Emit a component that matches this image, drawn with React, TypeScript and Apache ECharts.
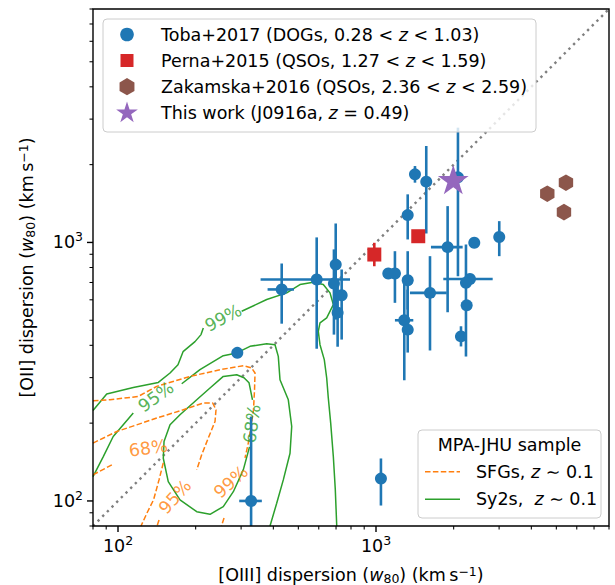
import React, { useEffect, useRef } from "react";
import * as echarts from "echarts";

const FONT = "DejaVu Sans";
const FS = 17.5;
const BLUE = "#1f77b4";
const RED = "#d62728";
const BROWN = "#8c564b";
const PURPLE = "#9467bd";
const GREEN = "#2ca02c";
const ORANGE = "#ff7f0e";
const GRAY = "#7f7f7f";

// ---------- axes ----------
const AXIS_MIN = 80;
const AXIS_MAX = 8000;
const majorTicks = [100, 1000];
const minorTicks = [80, 90, 200, 300, 400, 500, 600, 700, 800, 900, 2000, 3000, 4000, 5000, 6000, 7000, 8000];

// ---------- Toba+2017 (DOGs) ----------
const tobaPoints: number[][] = [
  [431, 658], [589, 719], [698, 821], [687, 693], [736, 625], [710, 535],
  [290, 374], [328, 100], [1045, 122],
  [1416, 1834], [1566, 1719], [1327, 1276], [1895, 959], [2404, 997], [3004, 1050],
  [1116, 758], [1184, 758], [1327, 714], [1619, 638], [2313, 722], [2232, 698],
  [2246, 571], [2135, 433], [1287, 500], [1327, 460], [2078, 1786],
];
const tobaXerr: (number[] | null)[] = [
  [380, 481], [357, 793], null, null, null, null,
  null, [295, 361], null,
  null, null, null, [1633, 2167], null, null,
  null, null, null, [1354, 1879], [1823, 2833], null,
  null, [2030, 2250], [1184, 1395], null, null,
];
const tobaYerr: (number[] | null)[] = [
  [485, 829], [388, 1046], [503, 1184], [440, 940], [421, 786], [395, 719],
  null, [60, 212], [96, 146],
  [1703, 1975], [1083, 2361], [1027, 1535], [537, 1382], null, [885, 1209],
  null, [584, 925], [550, 925], [382, 885], null, [362, 982],
  null, [396, 474], [293, 698], [375, 657], [740, 2780],
];

// ---------- Perna+2015 (QSOs) ----------
const pernaPoints: number[][] = [[985, 898], [1458, 1057]];
const pernaYerr: (number[] | null)[] = [[809, 997], null];

// ---------- Zakamska+2016 (QSOs) ----------
const zakamskaPoints: number[][] = [[5448, 1703], [4612, 1544], [5352, 1310]];

// ---------- This work ----------
const thisWorkPoints: number[][] = [[1993, 1728]];

// ---------- 1:1 line ----------
const oneToOne: number[][] = [[80, 80], [8000, 8000]];

// ---------- MPA-JHU Sy2s contours (solid green) ----------
const sy2s99a: number[][] = [
  [80, 223.8], [90.4, 259.2], [114.6, 274.9], [143.3, 287.4], [159.1, 312.6], [170.8, 336.6],
  [178.7, 378.0], [198.8, 413.4], [209.8, 440.0], [214.1, 467.0],
];
const sy2s99b: number[][] = [
  [301.6, 541.6], [377.1, 601.3], [450.7, 638.3], [507.4, 687.5], [571.4, 701.6], [624.7, 687.5],
  [663.3, 638.3], [683.3, 575.1], [644.0, 510.6], [606.6, 488.4], [597.5, 453.1], [606.6, 402.3],
  [630.3, 352.0], [644.0, 299.0], [653.3, 250.1], [667.4, 200.1], [683.3, 148.5], [695.5, 110.3], [704.4, 80],
];
const sy2s95a: number[][] = [[80, 124.2], [87.7, 148.5], [95.8, 177.5], [114.6, 218.7]];
const sy2s95b: number[][] = [
  [176.6, 284.1], [207.8, 321.9], [255.9, 364.8], [288.5, 373.7], [324.8, 396.4], [377.1, 406.0],
  [406.0, 402.3], [418.1, 362.5], [424.5, 294.5], [457.2, 246.2], [471.3, 194.1], [464.2, 153.0],
  [437.2, 120.6], [412.2, 98.0], [388.3, 80],
];
const sy2s68: number[][] = [
  [323.4, 161.9], [305.9, 131.9], [279.9, 108.6], [255.9, 95.1], [227.3, 88.8], [201.9, 90.9],
  [173.9, 100.9], [156.6, 118.8], [149.8, 146.3], [150.8, 169.8], [159.1, 197.0], [173.9, 215.4],
  [201.9, 246.2], [227.3, 273.4], [255.9, 303.2], [288.5, 307.8], [307.8, 299.8], [321.9, 286.7], [332.1, 246.2],
];

// ---------- MPA-JHU SFGs contours (dashed orange) ----------
const sfg99a: number[][] = [
  [80, 244.1], [93.1, 246.2], [119.8, 253.7], [141.3, 277.4], [190.1, 303.2], [248.5, 321.9],
  [305.9, 333.6], [329.7, 326.8], [339.7, 312.6], [338.2, 269.4], [335.1, 225.3], [327.8, 194.1],
  [319.9, 167.4], [310.7, 146.7],
];
const sfg99b: number[][] = [[257.6, 85.9], [251.8, 80]];
const sfg95a: number[][] = [
  [80, 167.4], [98.9, 185.6], [141.3, 209.2], [179.1, 225.3], [214.1, 239.1], [232.9, 239.1],
  [239.8, 225.3], [237.7, 203.0], [223.8, 175.0], [211.0, 150.8], [201.9, 131.9],
];
const sfg95b: number[][] = [[144.2, 84.4], [141.7, 80]];
const sfg68a: number[][] = [[80, 126.2], [95.8, 138.8]];
const sfg68b: number[][] = [[149.8, 140.3], [144.2, 120.6], [137.3, 100.9], [129.5, 89.8], [122.8, 80]];

// ---------- contour labels ----------
const contourLabelTexts = ["99%", "95%", "68%", "68%", "95%", "99%"];
const contourLabelColors = [GREEN, GREEN, GREEN, ORANGE, ORANGE, ORANGE];
const contourLabelAt: number[][] = [
  [255.9, 510.6], [140.3, 253.0], [330.6, 198.8], [131.0, 160.1], [166.3, 103.7], [274.1, 118.5],
];
const contourLabelAngle = [28, 36, 82, 8, 48, 42];

// ---------- legend texts ----------
const legendMain = [
  "Toba+2017 (DOGs, 0.28 < {i|z} < 1.03)",
  "Perna+2015 (QSOs, 1.27 < {i|z} < 1.59)",
  "Zakamska+2016 (QSOs, 2.36 < {i|z} < 2.59)",
  "This work (J0916a, {i|z} = 0.49)",
];
const legendSampleTitle = "MPA-JHU sample";
const legendSample = ["SFGs, {i|z} \u223C 0.1", "Sy2s,  {i|z} \u223C 0.1"];

const HEX_PATH = "path://M0,-1L0.866,-0.5L0.866,0.5L0,1L-0.866,0.5L-0.866,-0.5Z";
const STAR_PATH =
  "path://M0,-1L0.2245,-0.309L0.9511,-0.309L0.3633,0.118L0.5878,0.809L0,0.382L-0.5878,0.809L-0.3633,0.118L-0.9511,-0.309L-0.2245,-0.309Z";

function polyPoints(cx: number, cy: number, R: number, n: number, inner?: number) {
  const pts: number[][] = [];
  const count = inner ? n * 2 : n;
  for (let k = 0; k < count; k++) {
    const a = ((-90 + (360 / count) * k) * Math.PI) / 180;
    const r = inner && k % 2 === 1 ? R * inner : R;
    pts.push([cx + r * Math.cos(a), cy + r * Math.sin(a)]);
  }
  return pts;
}

function errData(points: number[][], xerr: (number[] | null)[] | null, yerr: (number[] | null)[] | null) {
  return points.map((p, i) => {
    const xe = xerr ? xerr[i] : null;
    const ye = yerr ? yerr[i] : null;
    return [p[0], p[1], xe ? xe[0] : null, xe ? xe[1] : null, ye ? ye[0] : null, ye ? ye[1] : null];
  });
}

function errorSeries(data: any[], color: string, z: number) {
  return {
    type: "custom",
    silent: true,
    z,
    clip: false,
    data,
    encode: { x: 0, y: 1 },
    renderItem: (params: any, api: any) => {
      const cs = params.coordSys;
      const clx = (v: number) => Math.min(cs.x + cs.width, Math.max(cs.x, v));
      const cly = (v: number) => Math.min(cs.y + cs.height, Math.max(cs.y, v));
      const x = api.value(0);
      const y = api.value(1);
      const xlo = api.value(2), xhi = api.value(3), ylo = api.value(4), yhi = api.value(5);
      const children: any[] = [];
      if (!isNaN(xlo) && !isNaN(xhi)) {
        const a = api.coord([xlo, y]);
        const b = api.coord([xhi, y]);
        children.push({
          type: "line",
          shape: { x1: clx(a[0]), y1: a[1], x2: clx(b[0]), y2: b[1] },
          style: { stroke: color, lineWidth: 2.6 },
        });
      }
      if (!isNaN(ylo) && !isNaN(yhi)) {
        const a = api.coord([x, ylo]);
        const b = api.coord([x, yhi]);
        children.push({
          type: "line",
          shape: { x1: a[0], y1: cly(a[1]), x2: b[0], y2: cly(b[1]) },
          style: { stroke: color, lineWidth: 2.6 },
        });
      }
      return { type: "group", children };
    },
  };
}

function tickSeries(axis: "x" | "y") {
  const data = [
    ...majorTicks.map((v) => (axis === "x" ? [v, AXIS_MIN, 6] : [AXIS_MIN, v, 6])),
    ...minorTicks.map((v) => (axis === "x" ? [v, AXIS_MIN, 3.5] : [AXIS_MIN, v, 3.5])),
  ];
  return {
    type: "custom",
    silent: true,
    clip: false,
    z: 20,
    data,
    encode: { x: 0, y: 1 },
    renderItem: (_params: any, api: any) => {
      const p = api.coord([api.value(0), api.value(1)]);
      const len = api.value(2);
      const lw = len > 4 ? 1.4 : 1.05;
      const shape =
        axis === "x"
          ? { x1: p[0], y1: p[1], x2: p[0], y2: p[1] + len }
          : { x1: p[0], y1: p[1], x2: p[0] - len, y2: p[1] };
      return { type: "line", shape, style: { stroke: "#000", lineWidth: lw } };
    },
  };
}

function contourLine(data: number[][], color: string, dashed: boolean) {
  return {
    type: "line",
    data,
    symbol: "none",
    silent: true,
    z: 2,
    lineStyle: { color, width: 1.5, type: dashed ? [5.5, 2.4] : "solid" },
  };
}

const tickRich = {
  b: { fontFamily: FONT, fontSize: FS, color: "#000", lineHeight: 24 },
  s: { fontFamily: FONT, fontSize: 12.5, color: "#000", lineHeight: 12, verticalAlign: "top" },
};
const nameRich = {
  i: { fontFamily: FONT, fontSize: FS, fontStyle: "italic", color: "#000", lineHeight: 20 },
  sub: { fontFamily: FONT, fontSize: 12.5, color: "#000", lineHeight: 12, verticalAlign: "bottom" },
  sup: { fontFamily: FONT, fontSize: 12.5, color: "#000", lineHeight: 12, verticalAlign: "top" },
};
const expLabel = (v: number) => `{b|10}{s|${Math.round(Math.log10(v))}}`;

function legendGraphics() {
  const textRich = { i: { fontFamily: FONT, fontSize: FS, fontStyle: "italic", fill: "#000", color: "#000" } };
  const g: any[] = [];
  // main legend (top-left)
  const bx = 103, by = 19, bw = 433, bh = 113;
  const rows = [34.5, 60.5, 86.7, 113];
  const mx = 127, tx = 161;
  g.push({
    type: "rect", z: 100, silent: true,
    shape: { x: bx, y: by, width: bw, height: bh, r: 4 },
    style: { fill: "rgba(255,255,255,0.8)", stroke: "#cccccc", lineWidth: 1 },
  });
  g.push({ type: "circle", z: 101, silent: true, shape: { cx: mx, cy: rows[0], r: 6.8 }, style: { fill: BLUE } });
  g.push({ type: "rect", z: 101, silent: true, shape: { x: mx - 6.5, y: rows[1] - 6.5, width: 13, height: 13 }, style: { fill: RED } });
  g.push({ type: "polygon", z: 101, silent: true, shape: { points: polyPoints(mx, rows[2], 8.6, 6) }, style: { fill: BROWN } });
  g.push({ type: "polygon", z: 101, silent: true, shape: { points: polyPoints(mx, rows[3], 11.4, 5, 0.381966) }, style: { fill: PURPLE } });
  legendMain.forEach((t, k) => {
    g.push({
      type: "text", z: 101, silent: true, x: tx, y: rows[k],
      style: { text: t, fontFamily: FONT, fontSize: FS, fill: "#000", align: "left", verticalAlign: "middle", rich: textRich },
    });
  });
  // sample legend (bottom-right)
  const sx = 418, sy = 430, sw = 183, sh = 88;
  g.push({
    type: "rect", z: 100, silent: true,
    shape: { x: sx, y: sy, width: sw, height: sh, r: 4 },
    style: { fill: "rgba(255,255,255,0.8)", stroke: "#cccccc", lineWidth: 1 },
  });
  g.push({
    type: "text", z: 101, silent: true, x: sx + sw / 2, y: 445,
    style: { text: legendSampleTitle, fontFamily: FONT, fontSize: FS, fill: "#000", align: "center", verticalAlign: "middle" },
  });
  const srows = [471.7, 499.3];
  g.push({ type: "line", z: 101, silent: true, shape: { x1: 425, y1: srows[0], x2: 460, y2: srows[0] }, style: { stroke: ORANGE, lineWidth: 1.5, lineDash: [5.5, 2.4] } });
  g.push({ type: "line", z: 101, silent: true, shape: { x1: 425, y1: srows[1], x2: 460, y2: srows[1] }, style: { stroke: GREEN, lineWidth: 1.5 } });
  legendSample.forEach((t, k) => {
    g.push({
      type: "text", z: 101, silent: true, x: 476, y: srows[k],
      style: { text: t, fontFamily: FONT, fontSize: FS, fill: "#000", align: "left", verticalAlign: "middle", rich: textRich },
    });
  });
  return g;
}

function buildOption() {
  const axisCommon = {
    type: "log",
    logBase: 10,
    min: AXIS_MIN,
    max: AXIS_MAX,
    axisLine: { show: false },
    axisTick: { show: false },
    splitLine: { show: false },
    nameLocation: "middle",
    nameMoveOverlap: false,
  };
  return {
    animation: false,
    backgroundColor: "#ffffff",
    textStyle: { fontFamily: FONT },
    grid: {
      left: 93, top: 9, width: 516, height: 517,
      outerBoundsMode: "none", containLabel: false,
      show: true, borderColor: "#000", borderWidth: 1.4, backgroundColor: "transparent", z: 15,
    },
    xAxis: {
      ...axisCommon,
      axisLabel: { formatter: expLabel, rich: tickRich, margin: 8, showMinLabel: false, showMaxLabel: false },
      name: "[OIII] dispersion ({i|w}{sub|80}) (km\u2009s{sup|\u22121})",
      nameGap: 38.5,
      nameTextStyle: { fontFamily: FONT, fontSize: FS, color: "#000", lineHeight: 20, rich: nameRich },
    },
    yAxis: {
      ...axisCommon,
      axisLabel: { formatter: expLabel, rich: tickRich, margin: 10, showMinLabel: false, showMaxLabel: false },
      name: "[OII] dispersion ({i|w}{sub|80}) (km\u2009s{sup|\u22121})",
      nameGap: 56,
      nameTextStyle: { fontFamily: FONT, fontSize: FS, color: "#000", lineHeight: 20, rich: nameRich },
    },
    graphic: legendGraphics(),
    series: [
      {
        type: "line", data: oneToOne, symbol: "none", silent: true, z: 1,
        lineStyle: { color: GRAY, width: 2.4, type: [2.4, 4.2] },
      },
      contourLine(sy2s99a, GREEN, false),
      contourLine(sy2s99b, GREEN, false),
      contourLine(sy2s95a, GREEN, false),
      contourLine(sy2s95b, GREEN, false),
      contourLine(sy2s68, GREEN, false),
      contourLine(sfg99a, ORANGE, true),
      contourLine(sfg99b, ORANGE, true),
      contourLine(sfg95a, ORANGE, true),
      contourLine(sfg95b, ORANGE, true),
      contourLine(sfg68a, ORANGE, true),
      contourLine(sfg68b, ORANGE, true),
      {
        type: "scatter", silent: true, z: 3, symbol: "circle", symbolSize: 0,
        itemStyle: { color: "rgba(0,0,0,0)" },
        label: { show: true, position: "inside", fontFamily: FONT, fontSize: FS },
        data: contourLabelAt.map((p, k) => ({
          value: p,
          label: { formatter: contourLabelTexts[k], rotate: contourLabelAngle[k], color: contourLabelColors[k] },
        })),
      },
      errorSeries(errData(tobaPoints, tobaXerr, tobaYerr), BLUE, 4),
      {
        type: "scatter", name: "Toba+2017", data: tobaPoints, symbol: "circle", symbolSize: 12,
        itemStyle: { color: BLUE, opacity: 1 }, z: 5, silent: true,
      },
      errorSeries(errData(pernaPoints, null, pernaYerr), RED, 6),
      {
        type: "scatter", name: "Perna+2015", data: pernaPoints, symbol: "rect", symbolSize: 14,
        itemStyle: { color: RED, opacity: 1 }, z: 6, silent: true,
      },
      {
        type: "scatter", name: "Zakamska+2016", data: zakamskaPoints, symbol: HEX_PATH, symbolSize: [14.4, 16.6],
        itemStyle: { color: BROWN, opacity: 1 }, z: 6, silent: true,
      },
      {
        type: "scatter", name: "This work", data: thisWorkPoints, symbol: STAR_PATH, symbolSize: [30.7, 29.2],
        symbolOffset: [0, -1.5], itemStyle: { color: PURPLE, opacity: 1 }, z: 7, silent: true,
      },
      tickSeries("x"),
      tickSeries("y"),
    ],
  };
}

export default function App() {
  const ref = useRef<HTMLDivElement>(null);
  useEffect(() => {
    if (!ref.current) return;
    const chart = echarts.init(ref.current, undefined, { renderer: "svg" });
    chart.setOption(buildOption() as any);
    return () => chart.dispose();
  }, []);
  return (
    <div
      ref={ref}
      style={{ position: "fixed", left: 0, top: 0, width: 615, height: 585, background: "#fff" }}
    />
  );
}
